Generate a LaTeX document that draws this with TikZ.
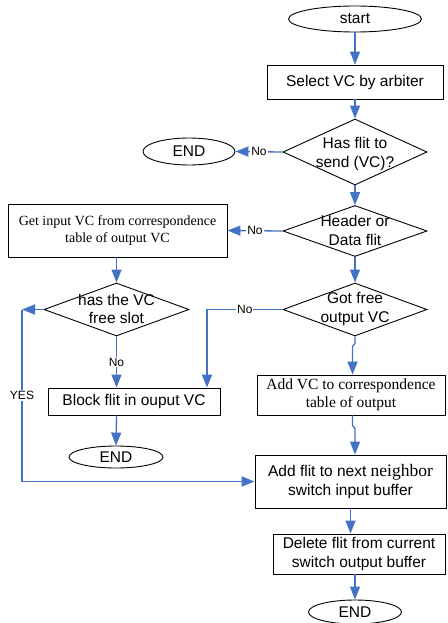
\documentclass[tikz,border=0pt]{standalone}
\usepackage{fontspec}
\setmainfont{Liberation Serif}
\newfontfamily\arialfont{Liberation Sans}
\usetikzlibrary{shapes.geometric,arrows.meta}
\definecolor{flowblue}{RGB}{68,114,196}
\tikzset{
  sansfont/.style={font=\arialfont\fontsize{15.5}{18.5}\selectfont},
  seriffont/.style={font=\rmfamily\fontsize{14}{17.5}\selectfont},
  bigseriffont/.style={font=\rmfamily\fontsize{15.5}{18.5}\selectfont},
  procbox/.style={draw, line width=0.9pt, rectangle, inner sep=0pt, align=center, sansfont},
  terminal/.style={draw, line width=0.9pt, ellipse, inner sep=0pt, sansfont},
  decision/.style={draw, line width=0.9pt, diamond, inner sep=0pt},
  dtext/.style={align=center, inner sep=0pt, sansfont},
  arr/.style={draw=flowblue, line width=1.3pt, -{Triangle[length=13pt,width=10pt]}},
  arrthick/.style={arr, line width=1.8pt},
  lbl/.style={fill=white, inner sep=1pt, font=\arialfont\fontsize{12}{13}\selectfont}
}
\begin{document}
\begin{tikzpicture}[x=1pt,y=-1pt]
\useasboundingbox (0,0) rectangle (447,623);

% terminals
\node[terminal, minimum width=133pt, minimum height=26pt] (start) at (355,19) {start};
\node[terminal, minimum width=92pt, minimum height=27pt] (end1) at (189,151.5) {END};
\node[terminal, minimum width=94pt, minimum height=22pt] (end2) at (116,457) {END};
\node[terminal, minimum width=93pt, minimum height=24pt] (end3) at (355,612) {END};

% process boxes
\node[procbox, minimum width=176pt, minimum height=34pt] (select) at (355,82) {Select VC by arbiter};
\node[procbox, seriffont, minimum width=219pt, minimum height=53pt] (getin) at (117.5,230.5)
  {Get input VC from correspondence\\table of output VC};
\node[procbox, minimum width=172pt, minimum height=27pt] (block) at (134,401.5) {Block flit in ouput VC};
\node[procbox, bigseriffont, minimum width=188pt, minimum height=40pt] (addvc) at (351,395)
  {Add VC to correspondence\\table of output};
\node[procbox, minimum width=191pt, minimum height=53pt] (addflit) at (350.5,481.5)
  {Add flit to next {\rmfamily\fontsize{17.5}{18.5}\selectfont neighbor}\\switch input buffer};
\node[procbox, minimum width=172pt, minimum height=40pt] (delete) at (359,554)
  {Delete flit from current\\switch output buffer};

% decisions (outline plus centred text)
\node[decision, minimum width=144pt, minimum height=66pt] (d1) at (355,152) {};
\node[dtext] (d1t) at (355,154) {Has flit to\\send (VC)?};
\node[decision, minimum width=144pt, minimum height=51pt] (d2) at (355,231) {};
\node[dtext] (d2t) at (355,230.5) {Header or\\Data flit};
\node[decision, minimum width=145pt, minimum height=53pt] (d3) at (116.5,309.5) {};
\node[dtext] (d3t) at (116.5,309) {has the VC\\free slot};
\node[decision, minimum width=144pt, minimum height=53pt] (d4) at (355,309.5) {};
\node[dtext] (d4t) at (355,309) {Got free\\output VC};

\coordinate (yesturn) at (22,309.5);

% connectors
\draw[arr] (start) -- (select);
\draw[arr] (select) -- (d1.north);
\draw[arr] (d1.west) -- (end1.east) node[lbl, pos=0.5] {No};
\draw[arr] (d1.south) -- (d2.north);
\draw[arr] (d2.west) -- (getin.east) node[lbl, pos=0.5] {No};
\draw[arr] (d2.south) -- (d4.north);
\draw[arr] (d3.north |- getin.south) -- (d3.north);
\draw[arr] (d3.south) -- (d3.south |- block.north) node[lbl, pos=0.5] {No};
\draw[arr] (d3.south |- block.south) -- (end2.north);
\draw[arrthick] (d4.west) -| ([xshift=73pt]block.north) node[lbl, pos=0.25] {No};
% slightly kinked connectors through the "Add VC" box
\draw[arr] (d4.south) -- ++(0,7) -- ++(-2.5,3) -- ([xshift=-2.5pt]d4.south |- addvc.north);
\draw[arr] ([xshift=-2.5pt]d4.south |- addvc.south) -- ++(0,10) -- ++(2.5,3) -- (d4.south |- addflit.north);
\draw[arrthick] (d3.west) -- (yesturn);
\draw[arrthick] (yesturn) |- (addflit.west) node[lbl, pos=0.25] {YES};
\draw[arr] (addflit.south) -- (addflit.south |- delete.north);
\draw[arr] (delete.south -| end3.north) -- (end3.north);
\end{tikzpicture}
\end{document}
